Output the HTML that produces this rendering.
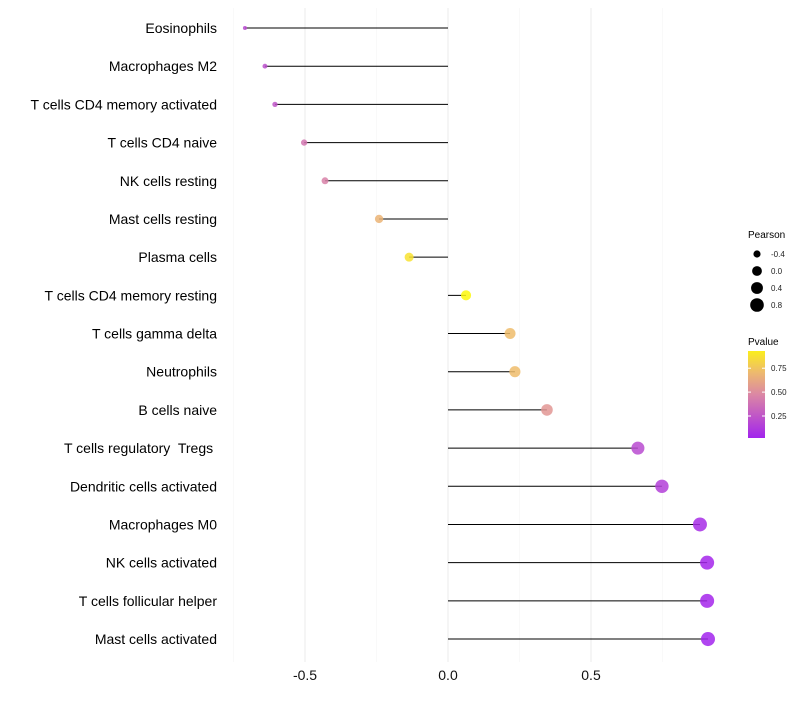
<!DOCTYPE html>
<html><head><meta charset="utf-8"><style>
body{margin:0;background:#fff;font-family:"Liberation Sans",sans-serif}
text{white-space:pre}
</style></head><body>
<svg id="c" width="800" height="700" xmlns="http://www.w3.org/2000/svg"></svg>
<script>
const categories=["Eosinophils","Macrophages M2","T cells CD4 memory activated","T cells CD4 naive","NK cells resting","Mast cells resting","Plasma cells","T cells CD4 memory resting","T cells gamma delta","Neutrophils","B cells naive","T cells regulatory  Tregs ","Dendritic cells activated","Macrophages M0","NK cells activated","T cells follicular helper","Mast cells activated"];
const pearson=[-0.71,-0.64,-0.605,-0.503,-0.43,-0.241,-0.136,0.063,0.217,0.234,0.346,0.664,0.748,0.881,0.906,0.906,0.909];
const pvalue=[0.2,0.22,0.25,0.4,0.45,0.68,0.88,0.97,0.72,0.72,0.55,0.2,0.15,0.06,0.03,0.03,0.02];
const xTicks=[-0.5,0,0.5];
const xTickLabels=["-0.5","0.0","0.5"];
const minorTicks=[-0.75,-0.25,0.25,0.75];
const sizeLegend=[-0.4,0.0,0.4,0.8];
const colorLegend=[0.25,0.5,0.75];

const NS="http://www.w3.org/2000/svg";
const svg=document.getElementById('c');
function el(t,a,p){const e=document.createElementNS(NS,t);for(const k in a)e.setAttribute(k,a[k]);(p||svg).appendChild(e);return e;}
const x=v=>448+v*286;
const y=i=>28+i*38.19;
const r=p=>Math.sqrt(Math.max(2,24+28*p));
function col(v){
  const stops=[[0,[160,32,240]],[0.5,[222,140,160]],[0.75,[240,195,100]],[1,[255,255,0]]];
  for(let i=1;i<stops.length;i++){if(v<=stops[i][0]){const a=stops[i-1],b=stops[i];const t=(v-a[0])/(b[0]-a[0]);
  return 'rgb('+a[1].map((c,j)=>Math.round(c+(b[1][j]-c)*t)).join(',')+')';}}
  return 'rgb(255,255,0)';
}
minorTicks.forEach(v=>{const g=el('line',{x1:x(v),x2:x(v),y1:8,y2:662,stroke:'#f5f5f5','stroke-width':0.6});
});
xTicks.forEach((v,i)=>{const g=el('line',{x1:x(v),x2:x(v),y1:8,y2:662,stroke:'#ebebeb','stroke-width':1});

const t=el('text',{x:x(v),y:680,'text-anchor':'middle','font-size':14,fill:'#111'});t.textContent=xTickLabels[i];
});
categories.forEach((c,i)=>{
  const t=el('text',{x:217,y:y(i)+5,'text-anchor':'end','font-size':14,fill:'#000'});t.textContent=c;
  
  const l=el('line',{x1:x(0),x2:x(pearson[i]),y1:y(i),y2:y(i),stroke:'#000','stroke-width':1});
  
  const d=el('circle',{cx:x(pearson[i]),cy:y(i),r:r(pearson[i]),fill:col(pvalue[i]),'fill-opacity':0.85});
  
});
let t=el('text',{x:748,y:238,'font-size':10,fill:'#000'});t.textContent='Pearson';

sizeLegend.forEach((p,i)=>{const cy=254+i*17;
  const c=el('circle',{cx:757,cy:cy,r:r(p),fill:'#000'});
  
  const tt=el('text',{x:771,y:cy+3,'font-size':8,fill:'#222'});tt.textContent=p.toFixed(1);
  });
t=el('text',{x:748,y:345,'font-size':10,fill:'#000'});t.textContent='Pvalue';

const defs=el('defs',{});const lg=el('linearGradient',{id:'g',x1:0,y1:1,x2:0,y2:0},defs);
[0,0.25,0.5,0.75,1].forEach(o=>el('stop',{offset:o,'stop-color':col(0.02+o*0.91)},lg));
const bar=el('rect',{x:748,y:351,width:17,height:87,fill:'url(#g)'});

colorLegend.forEach(v=>{const yy=438-(v-0.02)/0.91*87;
  el('line',{x1:748,x2:751,y1:yy,y2:yy,stroke:'#fff'});el('line',{x1:762,x2:765,y1:yy,y2:yy,stroke:'#fff'});
  const tt=el('text',{x:771,y:yy+3,'font-size':8,fill:'#222'});tt.textContent=v.toFixed(2);
  });
</script>
</body></html>
